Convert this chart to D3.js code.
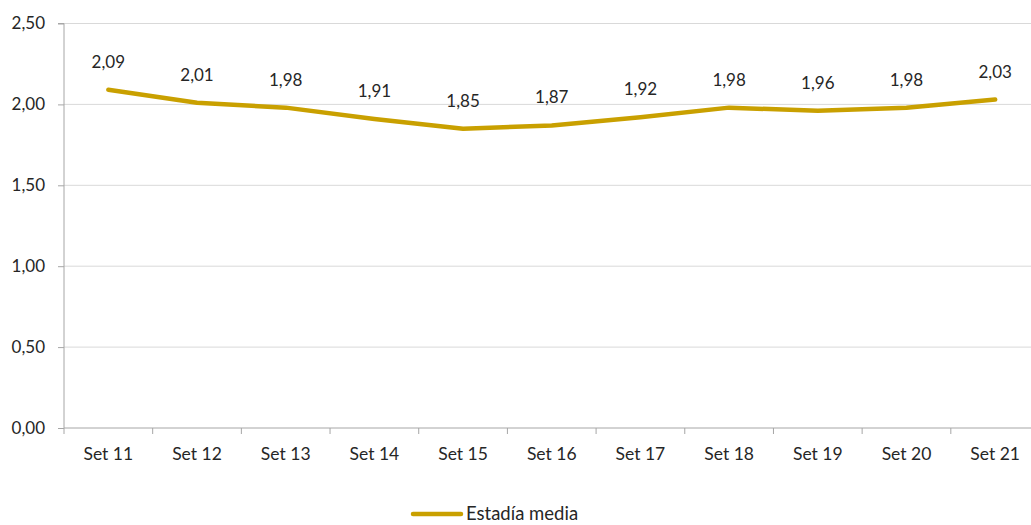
<!DOCTYPE html>
<html><head><meta charset="utf-8">
<script src="https://cdn.jsdelivr.net/npm/d3@7"></script>
<style>body{margin:0;background:#fff;overflow:hidden}svg{display:block}text{font-family:Lato,"Open Sans",sans-serif;fill:#262626}</style>
</head><body><svg id="c" width="1031" height="525"></svg>
<script>
const categories=["Set 11","Set 12","Set 13","Set 14","Set 15","Set 16","Set 17","Set 18","Set 19","Set 20","Set 21"];
const values=[2.09,2.01,1.98,1.91,1.85,1.87,1.92,1.98,1.96,1.98,2.03];
const yTicks=[0,0.5,1,1.5,2,2.5];
const seriesName="Estadía media";
const color="#C9A000";
const fmt=v=>v.toFixed(2).replace(".",",");
const svg=d3.select("#c");
const L=64,R=1039.5,T=23.5,B=428;
const x=d3.scaleBand().domain(categories).range([L,R]);
const y=d3.scaleLinear().domain([0,2.5]).range([B,T]);
// gridlines
svg.append("g").selectAll("line").data(yTicks.filter(d=>d>0)).join("line")
 .attr("x1",L).attr("x2",R).attr("y1",d=>y(d)).attr("y2",d=>y(d)).attr("stroke","#d9d9d9").attr("stroke-width",1);
// y axis
const ya=svg.append("g").attr("transform",`translate(${L},0)`).call(d3.axisLeft(y).tickValues(yTicks).tickFormat(fmt).tickSize(6).tickPadding(13));
ya.select(".domain").attr("stroke","#a6a6a6").attr("d",`M-6,${T}H0V${B}`);
ya.selectAll(".tick line").attr("stroke","#a6a6a6");
ya.selectAll("text").style("font-size","17px").attr("fill","#262626");
// x axis
const xa=svg.append("g").attr("transform",`translate(0,${B})`).call(d3.axisBottom(x).tickSize(0).tickPadding(20));
xa.select(".domain").attr("stroke","#a6a6a6").attr("d",`M${L},0H${R}`);
xa.selectAll("text").style("font-size","17.5px").attr("fill","#262626");
const bnd=[...categories.map(c=>x(c)),R];
svg.append("g").selectAll("line").data(bnd).join("line").attr("x1",d=>d).attr("x2",d=>d).attr("y1",B).attr("y2",B+6).attr("stroke","#a6a6a6");
// line
const cx=c=>x(c)+x.bandwidth()/2;
svg.append("path").datum(values).attr("fill","none").attr("stroke",color).attr("stroke-width",4.5).attr("stroke-linecap","round").attr("stroke-linejoin","round")
 .attr("d",d3.line().x((d,i)=>cx(categories[i])).y(d=>y(d)));
// labels
svg.append("g").selectAll("text").data(values).join("text").attr("x",(d,i)=>cx(categories[i])).attr("y",d=>y(d)-22)
 .attr("text-anchor","middle").style("font-size","17px").text(fmt);
// legend
svg.append("line").attr("x1",413).attr("x2",461).attr("y1",514).attr("y2",514).attr("stroke",color).attr("stroke-width",4.5).attr("stroke-linecap","round");
svg.append("text").attr("x",466).attr("y",520).style("font-size","18.5px").text(seriesName);
</script></body></html>
